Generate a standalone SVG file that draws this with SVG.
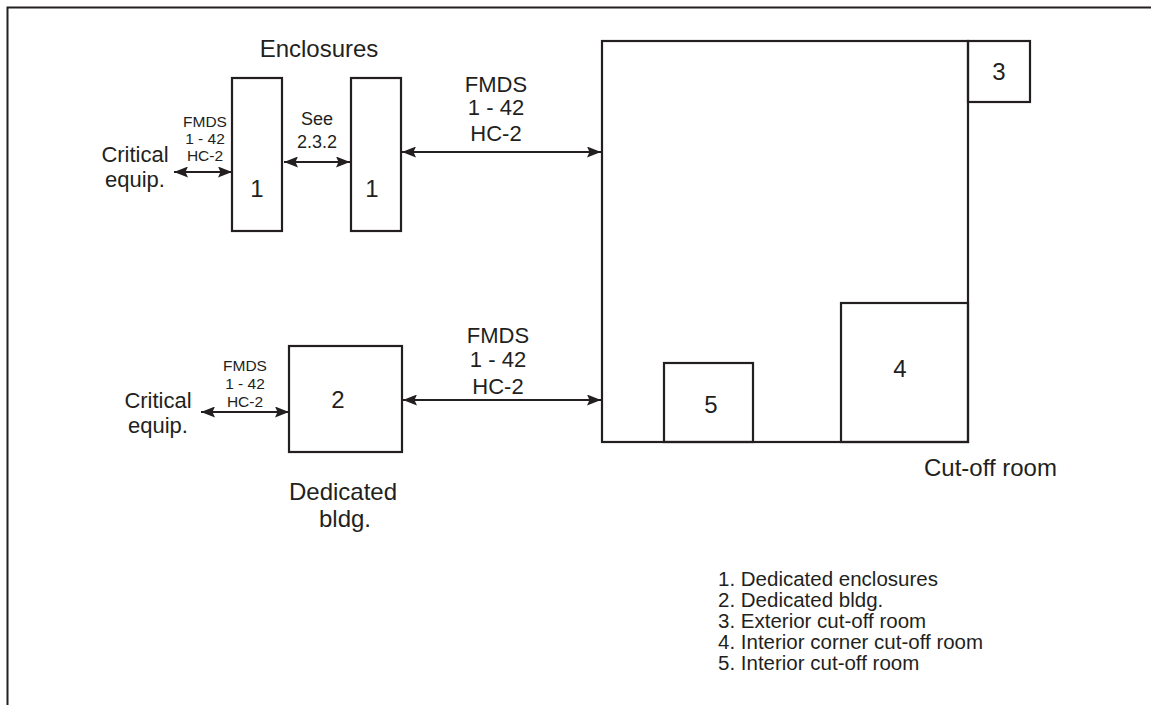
<svg xmlns="http://www.w3.org/2000/svg" width="1151" height="705" viewBox="0 0 1151 705">
<style>
  .box { fill: none; stroke: #231f20; stroke-width: 2.2; }
  .frame { fill: none; stroke: #231f20; stroke-width: 2; }
  .conn { fill: none; stroke: #231f20; stroke-width: 1.8; marker-start: url(#ah); marker-end: url(#ah); }
  text { font-family: "Liberation Sans", Arial, Helvetica, sans-serif; fill: #231f20; }
  .lg { font-size: 24px; }
  .md { font-size: 22px; }
  .sm { font-size: 15.5px; }
  .see { font-size: 18px; }
  .leg { font-size: 20.5px; }
  .c { text-anchor: middle; }
</style>
<defs>
  <marker id="ah" viewBox="0 0 14 11" refX="14" refY="5.5" markerWidth="14" markerHeight="11" markerUnits="userSpaceOnUse" orient="auto-start-reverse">
    <path d="M0,0 L14,5.5 L0,11 L2.5,5.5 Z" fill="#231f20"/>
  </marker>
</defs>
<rect width="1151" height="705" fill="#ffffff"/>
<g id="frame">
  <path class="frame" d="M7.5,705 L7.5,7.5 L1151,7.5"/>
</g>
<g id="connectors">
  <line class="conn" x1="174" y1="172" x2="232" y2="172"/>
  <line class="conn" x1="284" y1="162" x2="350" y2="162"/>
  <line class="conn" x1="402" y1="152" x2="601" y2="152"/>
  <line class="conn" x1="403" y1="400" x2="601" y2="400"/>
  <line class="conn" x1="201" y1="412" x2="289" y2="412"/>
</g>
<g id="labels-connectors">
  <text class="sm c" x="205" y="127">FMDS</text>
  <text class="sm c" x="205" y="144">1 - 42</text>
  <text class="sm c" x="205" y="161">HC-2</text>
  <text class="see c" x="317" y="125">See</text>
  <text class="see c" x="317" y="148">2.3.2</text>
  <text class="md c" x="496" y="92">FMDS</text>
  <text class="md c" x="496" y="115">1 - 42</text>
  <text class="md c" x="496" y="141">HC-2</text>
  <text class="md c" x="498" y="343">FMDS</text>
  <text class="md c" x="498" y="367">1 - 42</text>
  <text class="md c" x="498" y="394">HC-2</text>
  <text class="sm c" x="245" y="371">FMDS</text>
  <text class="sm c" x="245" y="389">1 - 42</text>
  <text class="sm c" x="245" y="407">HC-2</text>
</g>
<g id="critical-top">
  <text class="md c" x="135" y="162">Critical</text>
  <text class="md c" x="135" y="187">equip.</text>
</g>
<g id="critical-bottom">
  <text class="md c" x="158" y="408">Critical</text>
  <text class="md c" x="158" y="433">equip.</text>
</g>
<g id="enclosures-title">
  <text class="lg c" x="319" y="57">Enclosures</text>
</g>
<g id="enclosure-1a">
  <rect class="box" x="232" y="78" width="50" height="153"/>
  <text class="lg c" x="257" y="197">1</text>
</g>
<g id="enclosure-1b">
  <rect class="box" x="351" y="78" width="50" height="153"/>
  <text class="lg c" x="372" y="197">1</text>
</g>
<g id="dedicated-bldg">
  <rect class="box" x="289" y="346" width="113" height="106"/>
  <text class="lg c" x="338" y="408">2</text>
  <text class="lg c" x="343" y="500">Dedicated</text>
  <text class="lg c" x="345" y="527">bldg.</text>
</g>
<g id="building">
  <rect class="box" x="602" y="41" width="366" height="401"/>
  <text class="lg" x="924" y="476">Cut-off room</text>
</g>
<g id="room-3">
  <rect class="box" x="968" y="41" width="62" height="61"/>
  <text class="lg c" x="999" y="80">3</text>
</g>
<g id="room-4">
  <rect class="box" x="841" y="303" width="127" height="139"/>
  <text class="lg c" x="900" y="377">4</text>
</g>
<g id="room-5">
  <rect class="box" x="664" y="363" width="89" height="79"/>
  <text class="lg c" x="711" y="413">5</text>
</g>
<g id="legend">
  <text class="leg" x="718" y="586">1. Dedicated enclosures</text>
  <text class="leg" x="718" y="607">2. Dedicated bldg.</text>
  <text class="leg" x="718" y="628">3. Exterior cut-off room</text>
  <text class="leg" x="718" y="649">4. Interior corner cut-off room</text>
  <text class="leg" x="718" y="670">5. Interior cut-off room</text>
</g>
</svg>
